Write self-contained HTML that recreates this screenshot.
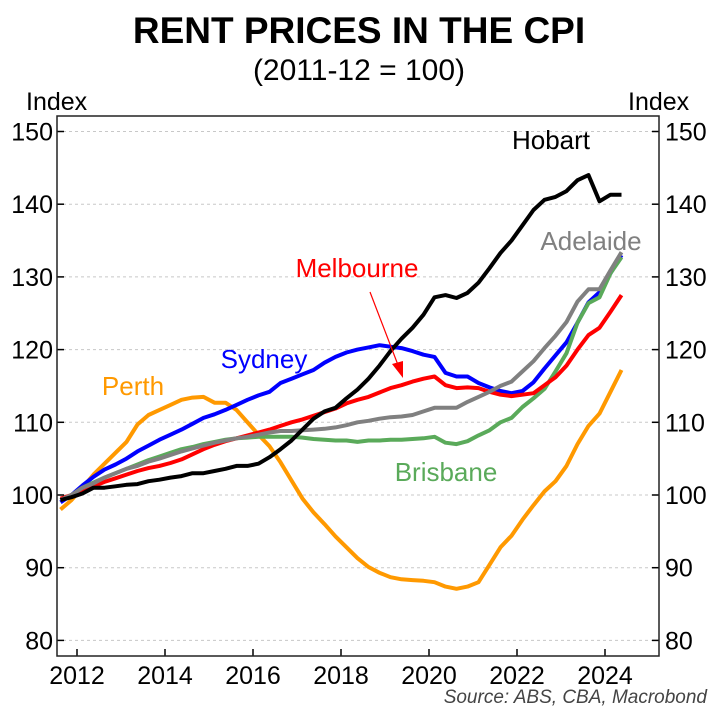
<!DOCTYPE html>
<html><head><meta charset="utf-8"><style>
body{margin:0;background:#fff;}
svg text{font-family:"Liberation Sans",Arial,sans-serif;}
</style></head><body>
<svg id="chart" width="719" height="716" xmlns="http://www.w3.org/2000/svg">
<text x="359" y="43" text-anchor="middle" font-size="37" font-weight="bold">RENT PRICES IN THE CPI</text>
<text x="359" y="80" text-anchor="middle" font-size="30">(2011-12 = 100)</text>
<text x="26" y="110" font-size="25">Index</text>
<text x="628" y="110" font-size="25">Index</text>
<g id="grid"></g><g id="series"></g><g id="axes"></g>
<text x="551" y="149" font-size="26" text-anchor="middle" fill="#000">Hobart</text>
<text x="591" y="250" font-size="26" text-anchor="middle" fill="#808080">Adelaide</text>
<text x="357" y="277" font-size="26" text-anchor="middle" fill="#ff0000">Melbourne</text>
<text x="264" y="368" font-size="26" text-anchor="middle" fill="#0000ff">Sydney</text>
<text x="133" y="395" font-size="26" text-anchor="middle" fill="#ff9900">Perth</text>
<text x="446" y="481" font-size="26" text-anchor="middle" fill="#5aaa5a">Brisbane</text>
<line x1="370" y1="292" x2="398" y2="365" stroke="#ff0000" stroke-width="1.2"/>
<polygon points="403,378 392,364 403,361" fill="#ff0000"/>
<text x="707" y="703" font-size="19" font-style="italic" text-anchor="end" fill="#444">Source: ABS, CBA, Macrobond</text>
</svg>
<script>
const startYear = 2011.625;
const stepYears = 0.25;
const yTicks = [80,90,100,110,120,130,140,150];
const xTicks = [2012,2014,2016,2018,2020,2022,2024];
const perth = [98,99.3,101,102.8,104.3,105.8,107.3,109.7,111,111.7,112.4,113.1,113.4,113.5,112.7,112.7,111.7,110,108.3,106.7,104.5,102,99.5,97.6,96,94.3,92.8,91.3,90.1,89.3,88.7,88.4,88.3,88.2,88,87.4,87.1,87.4,88,90.4,92.8,94.4,96.6,98.6,100.5,101.9,104,107,109.5,111.2,114.2,117.2];
const sydney = [99,100,101.3,102.5,103.5,104.2,105,106,106.8,107.6,108.3,109,109.8,110.6,111.1,111.7,112.4,113.1,113.7,114.2,115.4,116,116.6,117.2,118.2,119,119.6,120,120.3,120.6,120.4,120.2,119.8,119.3,119,116.8,116.3,116.3,115.4,114.8,114.3,114,114.3,115.5,117.4,119.2,121,123.7,126.5,127.9,130.5,133];
const brisbane = [99.3,100,101,101.7,102.4,103,103.6,104.2,104.8,105.3,105.8,106.3,106.6,107,107.3,107.6,107.8,107.9,108,108,108,108,107.9,107.7,107.6,107.5,107.5,107.3,107.5,107.5,107.6,107.6,107.7,107.8,108,107.2,107,107.4,108.2,108.9,110,110.6,112.1,113.3,114.6,117,119.5,123.7,126.4,127.2,130.5,132.7];
const melbourne = [99.5,100,100.6,101.2,101.8,102.3,102.8,103.3,103.7,104,104.4,104.9,105.6,106.3,106.9,107.4,107.8,108.2,108.6,109,109.5,110,110.4,110.9,111.4,111.9,112.6,113.1,113.5,114.1,114.7,115.1,115.6,116,116.3,115.1,114.7,114.8,114.7,114.2,113.8,113.6,113.8,114,115.1,116.2,117.8,120,122,123,125.2,127.5];
const adelaide = [99.3,100,101,101.6,102.4,103,103.6,104,104.6,105,105.5,106,106.4,106.8,107.2,107.5,107.8,108,108.3,108.6,108.8,108.8,108.9,109,109.1,109.3,109.6,110,110.2,110.5,110.7,110.8,111,111.5,112,112,112,112.8,113.5,114.2,115,115.6,117,118.4,120.2,121.9,123.8,126.6,128.3,128.3,130.9,133.4];
const hobart = [99.3,99.7,100.2,101,101,101.2,101.4,101.5,101.9,102.1,102.4,102.6,103,103,103.3,103.6,104,104,104.3,105.2,106.3,107.5,109,110.5,111.5,112,113.3,114.5,116,117.8,119.8,121.5,123,124.8,127.2,127.5,127.1,127.8,129.2,131.2,133.3,135,137.1,139.2,140.6,141,141.8,143.3,144,140.4,141.3,141.3];

const L=57,R=659,T=116,B=656;
const xs = t => 77 + 44*(t-2012);
const ys = v => 495 - 7.27*(v-100);
const NS="http://www.w3.org/2000/svg";
function mk(tag, attrs, parent){const e=document.createElementNS(NS,tag);for(const k in attrs)e.setAttribute(k,attrs[k]);parent.appendChild(e);return e;}
const grid=document.getElementById('grid'), axes=document.getElementById('axes'), ser=document.getElementById('series');
yTicks.forEach(v=>{
  const g=mk('line',{x1:L,x2:R,y1:ys(v),y2:ys(v),stroke:'#c8c8c8','stroke-width':1,'stroke-dasharray':'3,3'},grid);
  
  
  const tl=mk('line',{x1:L,x2:L+7,y1:ys(v),y2:ys(v),stroke:'#000','stroke-width':1.5},axes);
  
  
  const tr=mk('line',{x1:R-7,x2:R,y1:ys(v),y2:ys(v),stroke:'#000','stroke-width':1.5},axes);
  
  
  const a=mk('text',{x:L-4,y:ys(v)+9,'font-size':25,'text-anchor':'end'},axes);a.textContent=v;
  
  
  const b=mk('text',{x:R+6,y:ys(v)+9,'font-size':25,'text-anchor':'start'},axes);b.textContent=v;
  
  
});
xTicks.forEach(t=>{
  const l=mk('line',{x1:xs(t),x2:xs(t),y1:B-7,y2:B,stroke:'#000','stroke-width':1.5},axes);
  
  
  const a=mk('text',{x:xs(t),y:B+28,'font-size':25,'text-anchor':'middle'},axes);a.textContent=t;
  
  
});
const fr=mk('rect',{x:L,y:T,width:R-L,height:B-T,fill:'none',stroke:'#222','stroke-width':1.5},axes);


function line(data,color,name){
  const d=data.map((v,i)=>(i?'L':'M')+xs(startYear+stepYears*i).toFixed(1)+','+ys(v).toFixed(1)).join(' ');
  const p=mk('path',{d:d,fill:'none',stroke:color,'stroke-width':4,'stroke-linejoin':'round'},ser);
  
  
}
line(perth,'#ff9900','line-perth');
line(sydney,'#0000ff','line-sydney');
line(brisbane,'#5aaa5a','line-brisbane');
line(melbourne,'#ff0000','line-melbourne');
line(adelaide,'#808080','line-adelaide');
line(hobart,'#000000','line-hobart');
</script>
</body></html>
